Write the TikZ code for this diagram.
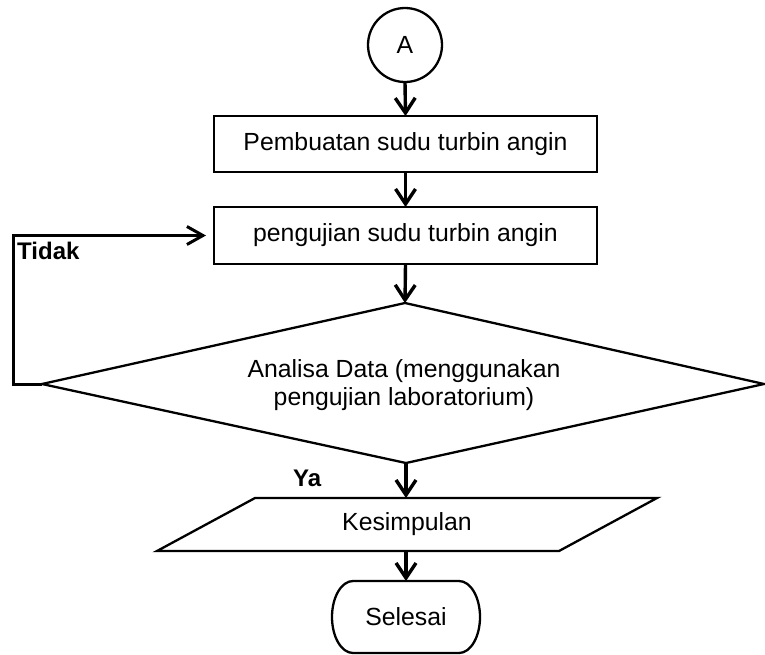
\documentclass[tikz,border=0pt]{standalone}
\usepackage{fontspec}
\setmainfont{Liberation Sans}
\usetikzlibrary{arrows.meta,shapes.geometric}
\begin{document}
\begin{tikzpicture}[x=1pt,y=-1pt,
  every node/.style={font=\fontsize{24.8}{28}\selectfont},
  shapeline/.style={draw=black,line width=2.3pt},
  procbox/.style={shapeline,rectangle,minimum width=383pt,minimum height=56pt,inner sep=0pt,outer sep=0pt},
  conn/.style={line width=3.4pt,-{Straight Barb[length=15pt,width=20pt]}},
  lbl/.style={font=\fontsize{24}{28}\bfseries\selectfont,inner sep=0pt,anchor=base west}]
\useasboundingbox (0,0) rectangle (765,654);
% start connector
\node[shapeline,circle,minimum size=74pt,inner sep=0pt,outer sep=0pt] (a) at (405,45) {A};
\node[procbox] (b1) at (405.5,144) {Pembuatan sudu turbin angin};
\node[procbox,minimum height=57pt] (b2) at (405.5,235.5) {pengujian sudu turbin angin};
% decision
\coordinate (dl) at (42,384);
\coordinate (dt) at (405,303);
\coordinate (dr) at (764,384);
\coordinate (db) at (406,463);
\draw[shapeline,line join=miter] (dl) -- (dt) -- (dr) -- (db) -- cycle;
\node[align=center,inner sep=0pt] (d) at (404,385) {Analisa Data (menggunakan\\pengujian laboratorium)};
% data (parallelogram)
\coordinate (ptl) at (255,498);
\coordinate (ptr) at (657,498);
\coordinate (pbr) at (559,551);
\coordinate (pbl) at (157,551);
\draw[shapeline] (ptl) -- (ptr) -- (pbr) -- (pbl) -- cycle;
\node[inner sep=0pt] (k) at (407,524.5) {Kesimpulan};
\coordinate (pt) at (406,498);
\coordinate (pb) at (406,551);
% terminator
\draw[shapeline] (353,581) -- (459,581) arc[start angle=-90,end angle=90,x radius=21,y radius=36]
  -- (353,653) arc[start angle=90,end angle=270,x radius=21,y radius=36] -- cycle;
\node[inner sep=0pt] (s) at (406,617) {Selesai};
\coordinate (st) at (406,581);
% connectors
\draw[conn] (a.south) -- (b1.north);
\draw[conn] (b1.south) -- (b2.north);
\draw[conn] (b2.south) -- (dt);
\draw[conn] (db) -- (pt);
\draw[conn] (pb) -- (st);
\coordinate (lc) at (13,384);
\draw[line width=3pt,-{Straight Barb[length=16pt,width=18pt]},shorten >=8pt] (dl) -- (lc) |- (b2.west);
% labels
\node[lbl] (tidak) at (17,259) {Tidak};
\node[lbl] (ya) at (293,486) {Ya};
\end{tikzpicture}
\end{document}
